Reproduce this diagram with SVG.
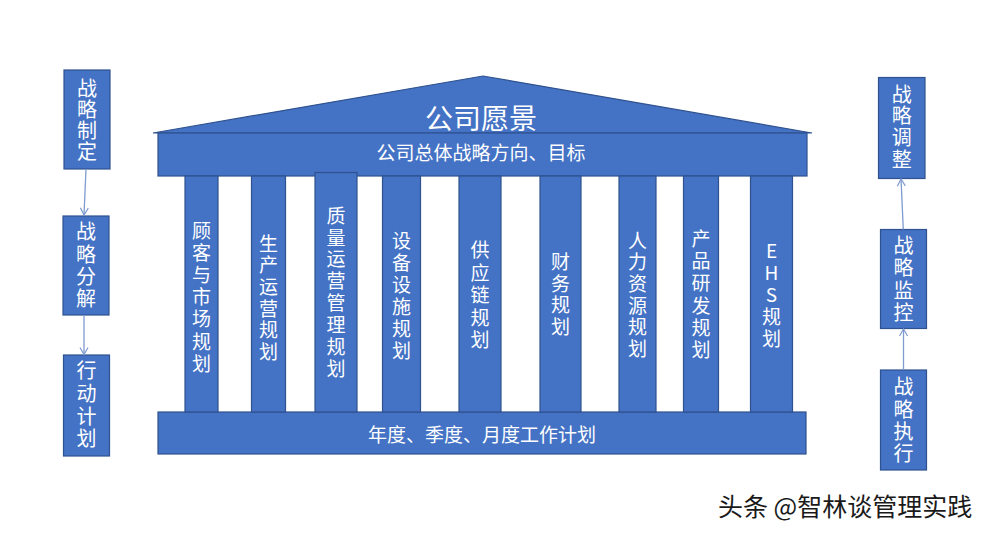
<svg xmlns="http://www.w3.org/2000/svg" width="989" height="534" viewBox="0 0 989 534">
<defs>
<style>
.blk{fill:#4472C4;stroke:#2F528F;stroke-width:1.2}
.t{fill:#ffffff;font-family:"Noto Sans CJK SC","Noto Sans",sans-serif;text-anchor:middle}
.v{writing-mode:vertical-rl;text-orientation:upright}
.pt{font-size:19px}
.bt{font-size:20px}
.con{stroke:#7F9BD0;stroke-width:1.3;fill:none}
</style>
<marker id="arr" markerWidth="10" markerHeight="10" refX="8" refY="5" orient="auto" markerUnits="userSpaceOnUse">
<path d="M1,1 L8,5 L1,9" fill="none" stroke="#7F9BD0" stroke-width="1.2"/>
</marker>
</defs>
<rect width="989" height="534" fill="#ffffff"/>

<g id="roof">
<polygon class="blk" points="153,133 483,76 812,133"/>
<rect class="blk" x="158" y="133" width="649" height="43"/>
<text class="t" x="481" y="129" font-size="28">公司愿景</text>
<text class="t" x="481" y="160" font-size="19">公司总体战略方向、目标</text>
</g>

<g id="base">
<rect class="blk" x="158" y="412" width="648" height="42"/>
<text class="t" x="482" y="442" font-size="19">年度、季度、月度工作计划</text>
</g>

<g id="p1">
<rect class="blk" x="185" y="176" width="33" height="236"/>
<text class="t v pt" x="201.5" y="298.6" letter-spacing="3.2">顾客与市场规划</text>
</g>
<g id="p2">
<rect class="blk" x="251.5" y="176" width="34" height="236"/>
<text class="t v pt" x="268.5" y="299" letter-spacing="2.7">生产运营规划</text>
</g>
<g id="p3">
<rect class="blk" x="315" y="172.5" width="42" height="239.5"/>
<text class="t v pt" x="336" y="293.5" letter-spacing="2.9">质量运营管理规划</text>
</g>
<g id="p4">
<rect class="blk" x="382.5" y="176" width="38" height="236"/>
<text class="t v pt" x="401.5" y="297" letter-spacing="3">设备设施规划</text>
</g>
<g id="p5">
<rect class="blk" x="459" y="176" width="42" height="236"/>
<text class="t v pt" x="480" y="297" letter-spacing="3.5">供应链规划</text>
</g>
<g id="p6">
<rect class="blk" x="540" y="176" width="41" height="236"/>
<text class="t v pt" x="560.5" y="295.5" letter-spacing="2.7">财务规划</text>
</g>
<g id="p7">
<rect class="blk" x="619" y="176" width="37" height="236"/>
<text class="t v pt" x="637.5" y="296" letter-spacing="2.7">人力资源规划</text>
</g>
<g id="p8">
<rect class="blk" x="683.5" y="176" width="35" height="236"/>
<text class="t v pt" x="701" y="296" letter-spacing="3.3">产品研发规划</text>
</g>
<g id="p9">
<rect class="blk" x="750.5" y="176" width="42" height="236"/>
<text class="t v pt" x="771.5" y="296" letter-spacing="3">EHS规划</text>
</g>

<g id="l1">
<rect class="blk" x="64" y="70" width="46" height="99"/>
<text class="t v bt" x="87" y="120.5" letter-spacing="1">战略制定</text>
</g>
<g id="l2">
<rect class="blk" x="63" y="216" width="46" height="99"/>
<text class="t v bt" x="86" y="266.5" letter-spacing="2.3">战略分解</text>
</g>
<g id="l3">
<rect class="blk" x="63.5" y="355" width="46" height="101"/>
<text class="t v bt" x="86.5" y="406" letter-spacing="2.7">行动计划</text>
</g>

<g id="r1">
<rect class="blk" x="878.5" y="77.5" width="46.5" height="101"/>
<text class="t v bt" x="901.7" y="127.5" letter-spacing="1.7">战略调整</text>
</g>
<g id="r2">
<rect class="blk" x="880.5" y="229.5" width="46" height="99"/>
<text class="t v bt" x="903.5" y="280" letter-spacing="2.2">战略监控</text>
</g>
<g id="r3">
<rect class="blk" x="880.5" y="370" width="46" height="100"/>
<text class="t v bt" x="903.5" y="421.5" letter-spacing="2.3">战略执行</text>
</g>

<g id="connectors">
<line class="con" x1="86" y1="169" x2="84" y2="215" marker-end="url(#arr)"/>
<line class="con" x1="84" y1="315" x2="84" y2="354.5" marker-end="url(#arr)"/>
<line class="con" x1="903.3" y1="229.5" x2="901" y2="179" marker-end="url(#arr)"/>
<line class="con" x1="903.5" y1="370" x2="903.5" y2="329" marker-end="url(#arr)"/>
</g>

<g id="watermark">
<text x="718" y="516" font-size="25" font-family="'Noto Sans CJK SC','Noto Sans',sans-serif" fill="#ffffff" stroke="#ffffff" stroke-width="2" transform="translate(-1,-1)">头条 @智林谈管理实践</text>
<text x="718" y="516" font-size="25" font-family="'Noto Sans CJK SC','Noto Sans',sans-serif" fill="#1a1a1a">头条 @智林谈管理实践</text>
</g>
</svg>
